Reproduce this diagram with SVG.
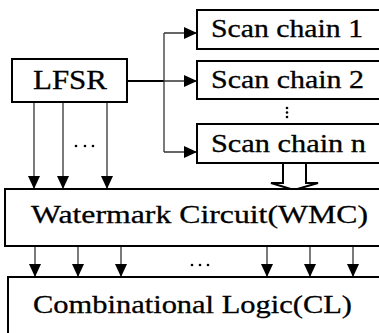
<svg xmlns="http://www.w3.org/2000/svg" width="379" height="333" viewBox="0 0 379 333">
<defs>
<style>
.box{fill:#fff;stroke:#000;stroke-width:2}
.lbl{font-family:"Liberation Serif","Times New Roman",serif;fill:#000;stroke:#000;stroke-width:0.3}
.ln{fill:none;stroke:#333;stroke-width:1.3}
.dot{fill:#000}
</style>
<marker id="ah" viewBox="0 0 13 12" refX="13" refY="6" markerWidth="13" markerHeight="12" markerUnits="userSpaceOnUse" orient="auto">
<path d="M0,0 L13,6 L0,12 Z" fill="#000"/>
</marker>
</defs>
<rect width="379" height="333" fill="#fff"/>
<g id="connectors">
<line x1="127" y1="81" x2="164" y2="81" stroke="#000" stroke-width="2"/>
<path class="ln" d="M164,33 L164,152"/>
<path class="ln" d="M164,33 L197,33" marker-end="url(#ah)"/>
<path class="ln" d="M164,81 L197,81" marker-end="url(#ah)"/>
<path class="ln" d="M164,152 L197,152" marker-end="url(#ah)"/>
<path class="ln" d="M34,102 L34,189" marker-end="url(#ah)"/>
<path class="ln" d="M63,102 L63,189" marker-end="url(#ah)"/>
<path class="ln" d="M107,102 L107,189" marker-end="url(#ah)"/>
<path class="ln" d="M35,246 L35,277" marker-end="url(#ah)"/>
<path class="ln" d="M78,246 L78,277" marker-end="url(#ah)"/>
<path class="ln" d="M121,246 L121,277" marker-end="url(#ah)"/>
<path class="ln" d="M267,246 L267,277" marker-end="url(#ah)"/>
<path class="ln" d="M310,246 L310,277" marker-end="url(#ah)"/>
<path class="ln" d="M353,246 L353,277" marker-end="url(#ah)"/>
<polygon points="283,163 283,183 271,183 294,190 318,183 306,183 306,163" fill="#fff" stroke="#000" stroke-width="2"/>
<circle class="dot" cx="76" cy="146" r="1.3"/>
<circle class="dot" cx="85" cy="146" r="1.3"/>
<circle class="dot" cx="93" cy="146" r="1.3"/>
<circle class="dot" cx="287" cy="108" r="1.3"/>
<circle class="dot" cx="287" cy="112.5" r="1.3"/>
<circle class="dot" cx="287" cy="117" r="1.3"/>
<circle class="dot" cx="192" cy="265" r="1.3"/>
<circle class="dot" cx="200" cy="265" r="1.3"/>
<circle class="dot" cx="208" cy="265" r="1.3"/>
</g>
<g id="lfsr">
<rect class="box" x="12" y="59" width="115" height="43"/>
<text class="lbl" x="33" y="89" font-size="27" textLength="74" lengthAdjust="spacingAndGlyphs">LFSR</text>
</g>
<g id="scan1">
<rect class="box" x="197" y="10" width="200" height="39"/>
<text class="lbl" x="211" y="37" font-size="25" textLength="152" lengthAdjust="spacingAndGlyphs">Scan chain 1</text>
</g>
<g id="scan2">
<rect class="box" x="197" y="61" width="200" height="38"/>
<text class="lbl" x="211" y="88" font-size="25" textLength="153" lengthAdjust="spacingAndGlyphs">Scan chain 2</text>
</g>
<g id="scann">
<rect class="box" x="197" y="124" width="200" height="39"/>
<text class="lbl" x="211" y="152" font-size="25" textLength="155" lengthAdjust="spacingAndGlyphs">Scan chain n</text>
</g>
<g id="wmc">
<rect class="box" x="5" y="189" width="400" height="57"/>
<text class="lbl" x="31" y="223" font-size="26" textLength="337" lengthAdjust="spacingAndGlyphs">Watermark Circuit(WMC)</text>
</g>
<g id="cl">
<rect class="box" x="8" y="277" width="400" height="80"/>
<text class="lbl" x="33" y="313" font-size="26" textLength="319" lengthAdjust="spacingAndGlyphs">Combinational Logic(CL)</text>
</g>
</svg>
